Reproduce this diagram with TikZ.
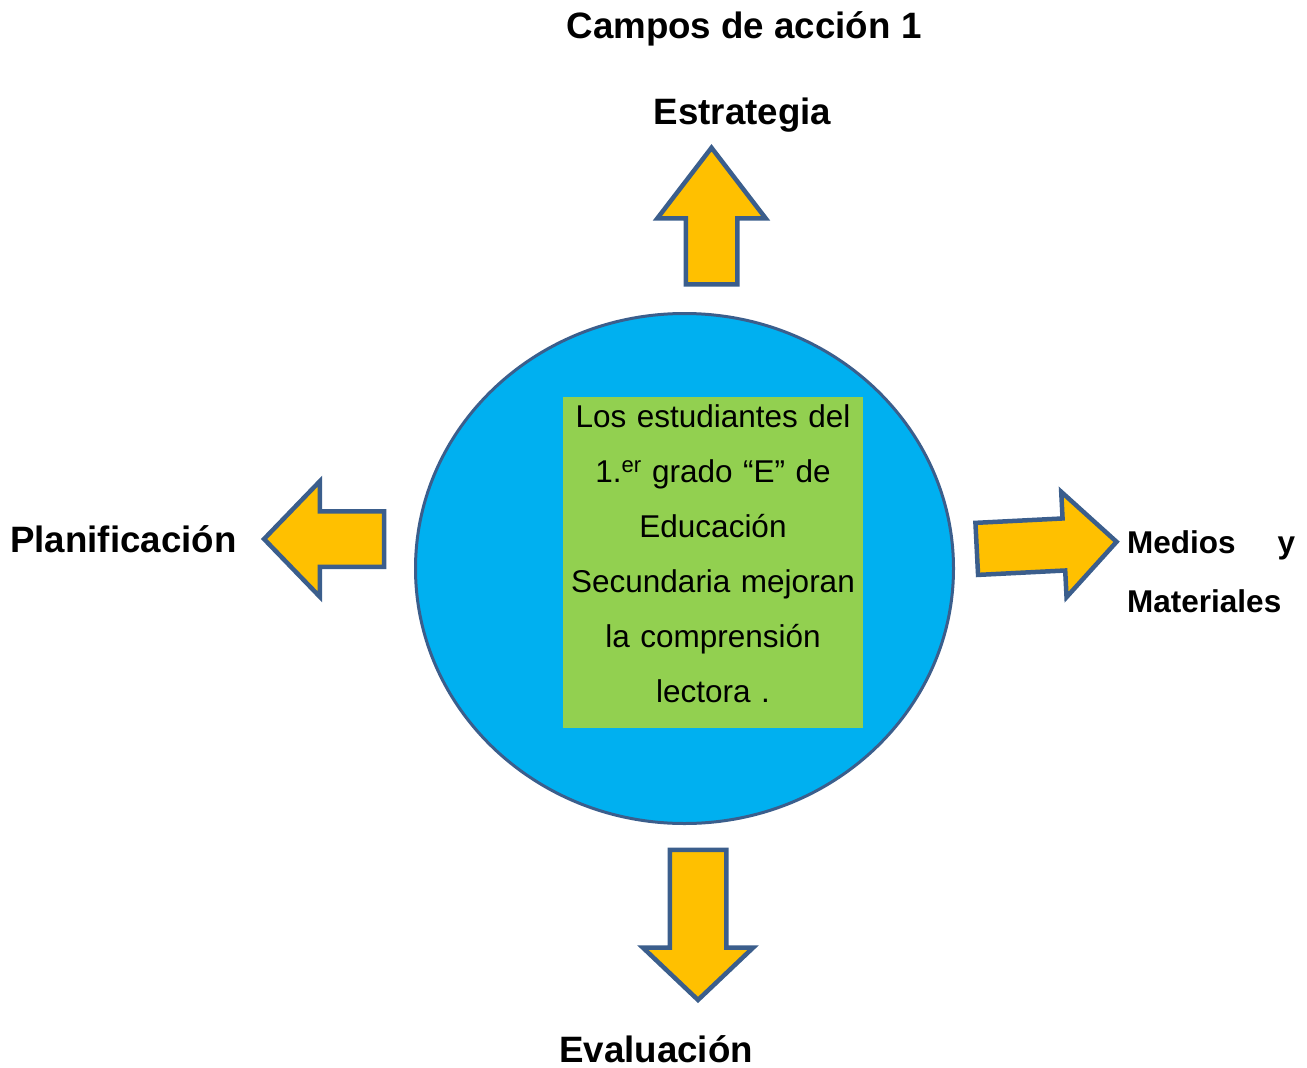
\documentclass[tikz,border=0pt]{standalone}
\usepackage{fontspec}
\setmainfont{Liberation Sans}
\usetikzlibrary{shapes.geometric,shapes.arrows}

\definecolor{naranja}{HTML}{FFC000}
\definecolor{celeste}{HTML}{00B0F0}
\definecolor{verde}{HTML}{92D050}
\definecolor{borde}{HTML}{3B5E8C}

\begin{document}
\begin{tikzpicture}[
  x=1pt, y=-1pt,
  % Node Styles
  circulo/.style={ellipse, draw=borde, line width=3pt, fill=celeste, inner sep=0pt, minimum width=538pt, minimum height=510pt},
  caja/.style={rectangle, fill=verde, inner xsep=0pt, inner ysep=7.5pt, text width=300pt, align=center,
    font=\fontsize{31.5}{55}\selectfont, text height=22.5pt, text depth=293.5pt},
  flecha/.style={single arrow, draw=borde, fill=naranja, line width=4.5pt, inner xsep=0pt},
  % Label Styles
  titulo/.style={font=\fontsize{36.7}{44}\selectfont\bfseries, inner sep=0pt},
  lado/.style={font=\fontsize{31.5}{59}\selectfont\bfseries, inner sep=0pt, text width=168pt, align=left}
]
\useasboundingbox (0,0) rectangle (1307,1068);

% ================= NODES =================

% --- Center ---
\node[circulo] (circ) at (684.5,568.5) {};
\node[caja] (meta) at (713,562.5) {Los estudiantes del\\1.\textsuperscript{er} grado “E” de\\Educación\\Secundaria mejoran\\la comprensión\\lectora .};

% --- Arrows (shaft = 2*inner ysep) ---
\node[flecha, rotate=90, anchor=tail, inner ysep=23.5pt, minimum height=136.5pt,
  single arrow head extend=28.5pt, single arrow tip angle=75] (arrArriba) at (711.5,286.5) {};
\node[flecha, rotate=180, anchor=tail, inner ysep=25.5pt, minimum height=120pt,
  single arrow head extend=30pt, single arrow tip angle=92] (arrIzq) at (386.3,539) {};
\node[flecha, rotate=2.9, anchor=tail, inner ysep=23.8pt, minimum height=140pt,
  single arrow head extend=26.7pt, single arrow tip angle=90] (arrDer) at (974.5,549) {};
\node[flecha, rotate=-90, anchor=tail, inner ysep=26pt, minimum height=150pt,
  single arrow head extend=27pt, single arrow tip angle=93] (arrAbajo) at (698,847.7) {};

% --- Labels ---
\node[titulo, anchor=base] (campos) at (744,38) {Campos de acción 1};
\node[titulo, anchor=base] (estrategia) at (742.5,124) {Estrategia};
\node[titulo, anchor=base west] (planif) at (10,552) {Planificación};
\node[titulo, anchor=base] (evaluacion) at (656,1062) {Evaluación};
\node[lado, anchor=base west] (medios) at (1127,553) {Medios\hfill y\\Materiales};

\end{tikzpicture}
\end{document}
